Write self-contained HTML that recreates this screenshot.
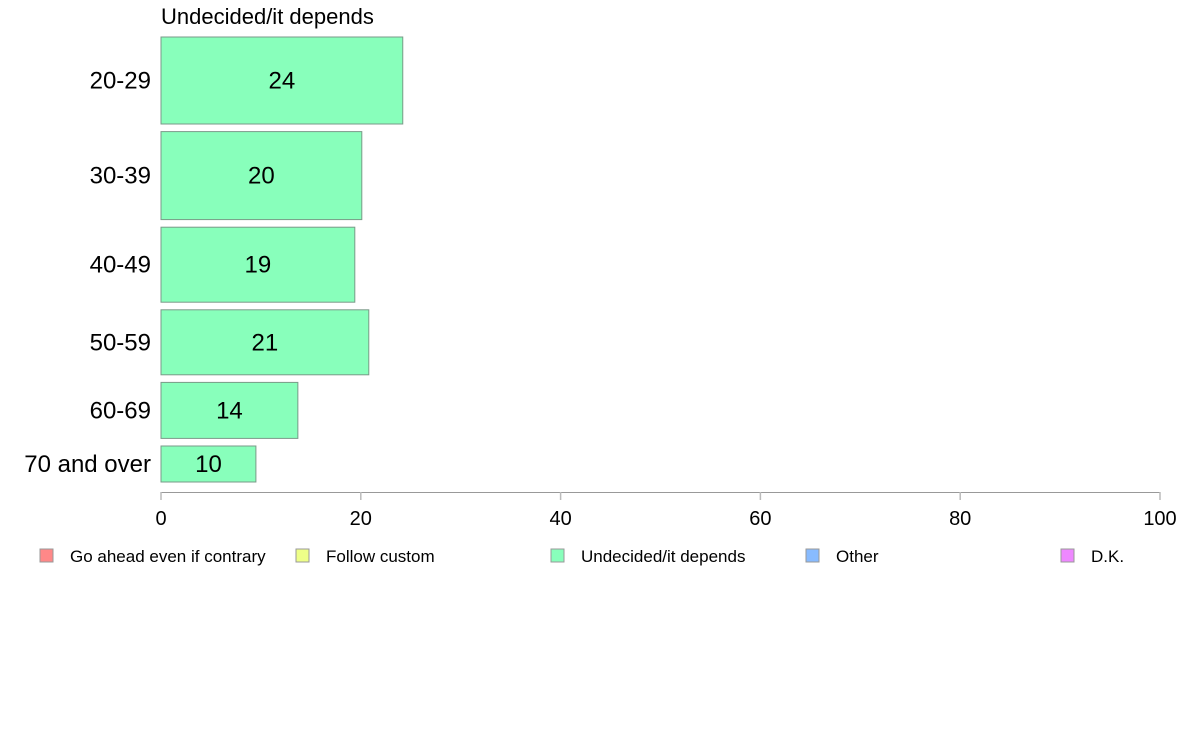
<!DOCTYPE html>
<html><head><meta charset="utf-8"><style>
body{margin:0;background:#fff;}
svg text{font-family:"Liberation Sans",Arial,sans-serif;fill:#000;}
</style></head><body>
<svg id="chart" width="1188" height="736" xmlns="http://www.w3.org/2000/svg">
<text x="161" y="24" font-size="22">Undecided/it depends</text>
<g id="bars"></g>
<g id="axis"></g>
<g id="legend"></g>
</svg>
<script>
const categories = ["20-29","30-39","40-49","50-59","60-69","70 and over"];
const values = [24.2, 20.1, 19.4, 20.8, 13.7, 9.5];
const labels = ["24","20","19","21","14","10"];
const weights = [87, 88, 75, 65, 56, 36];
const ticks = [0,20,40,60,80,100];
const legendLabels = ["Go ahead even if contrary","Follow custom","Undecided/it depends","Other","D.K."];
const legendColors = ["#ff8888","#eeff88","#88ffbb","#88bbff","#ee88ff"];

const NS="http://www.w3.org/2000/svg";
const x0=161, x1=1160;
const xs=v=>x0+(x1-x0)*v/100;
const barTop=37, gap=7.6;
function mk(t,a){const e=document.createElementNS(NS,t);for(const k in a)e.setAttribute(k,a[k]);return e;}
const bars=document.getElementById('bars');
let y=barTop;
categories.forEach((c,i)=>{
  const h=weights[i];
  const r=mk('rect',{x:xs(0),y:y,width:xs(values[i])-xs(0),height:h,fill:'#88ffbb',stroke:'#7a9a88','stroke-width':1});
  
  
  bars.appendChild(r);
  const cy=y+h/2;
  const t=mk('text',{x:(xs(0)+xs(values[i]))/2,y:cy+8,'font-size':24,'text-anchor':'middle'});
  t.textContent=labels[i];
  
  
  bars.appendChild(t);
  const l=mk('text',{x:151,y:cy+8,'font-size':24,'text-anchor':'end'});
  l.textContent=c;
  
  
  bars.appendChild(l);
  y+=h+gap;
});
const ax=document.getElementById('axis');
const line=mk('line',{x1:x0,x2:x1,y1:492.5,y2:492.5,stroke:'#999','stroke-width':1});


ax.appendChild(line);
ticks.forEach(v=>{
  const tk=mk('line',{x1:xs(v),x2:xs(v),y1:492,y2:500,stroke:'#bbb','stroke-width':1.5});
  
  
  ax.appendChild(tk);
  const t=mk('text',{x:xs(v),y:525,'font-size':20,'text-anchor':'middle'});
  t.textContent=v;
  
  
  ax.appendChild(t);
});
const lg=document.getElementById('legend');
const lx=[40,296,551,806,1061];
legendLabels.forEach((s,i)=>{
  const r=mk('rect',{x:lx[i],y:549,width:13,height:13,fill:legendColors[i],stroke:'#999','stroke-width':1});
  
  
  lg.appendChild(r);
  const t=mk('text',{x:lx[i]+30,y:562,'font-size':17});
  t.textContent=s;
  
  
  lg.appendChild(t);
});
</script>
</body></html>
